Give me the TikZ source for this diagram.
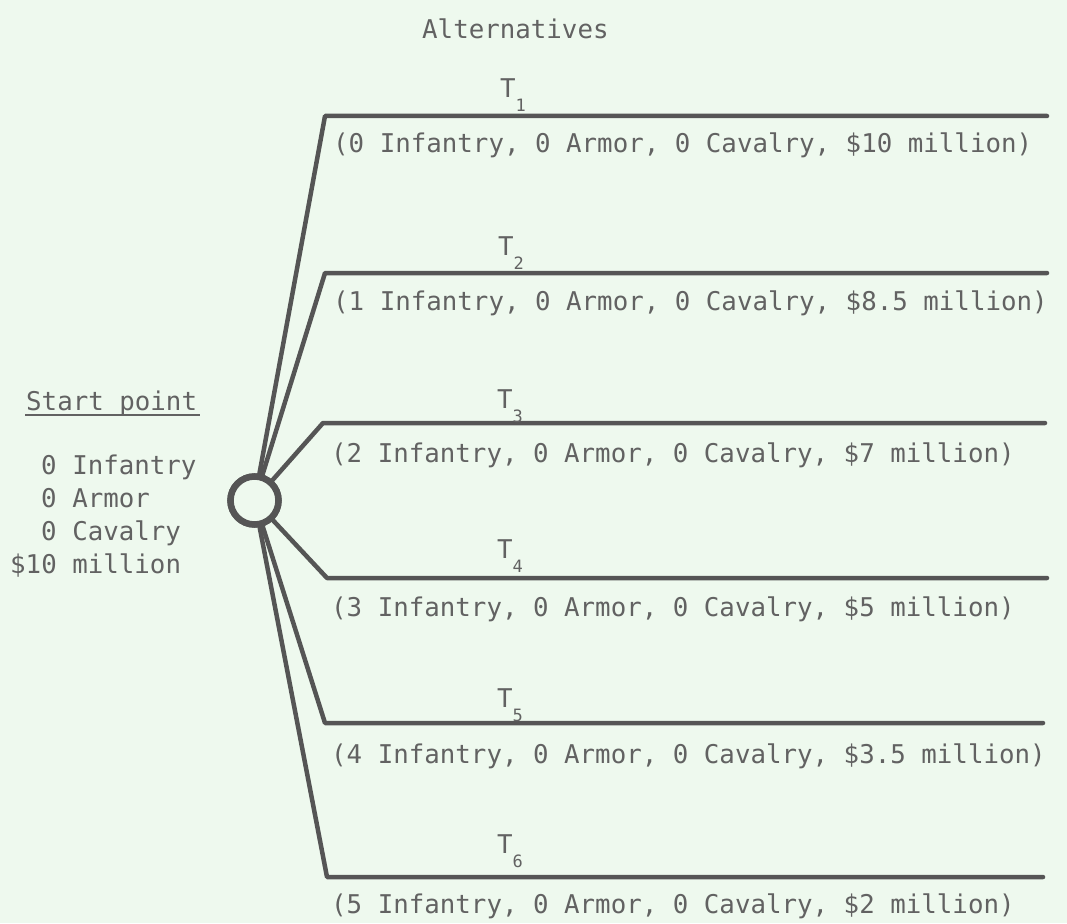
\documentclass[tikz,border=0pt]{standalone}
\usepackage{fontspec}
\newfontfamily\tw{DejaVu Sans Mono}
\definecolor{bgc}{RGB}{238,249,238}
\definecolor{linec}{RGB}{85,85,85}
\definecolor{txtc}{RGB}{98,98,98}
\tikzset{
  txt/.style={font=\tw\fontsize{25.8}{30}\selectfont, text=txtc, inner sep=0pt, anchor=base west},
  tlab/.style={font=\tw\fontsize{25.8}{30}\selectfont, text=txtc, inner sep=0pt, anchor=base west},
  branch/.style={draw=linec, line width=4.5pt, line join=round, line cap=round},
  hub/.style={circle, draw=linec, line width=6.5pt, minimum size=48pt, inner sep=0pt, fill=bgc}
}
\newcommand{\tsub}[1]{T\raisebox{-14pt}{\fontsize{17}{17}\selectfont #1}}
\begin{document}
\begin{tikzpicture}[x=1pt,y=-1pt]
\fill[bgc] (0,0) rectangle (1067,923);
\useasboundingbox (0,0) rectangle (1067,923);

% title
\node[txt] (alt) at (422,39) {Alternatives};

% start point block
\node[txt] (sp) at (26,410) {Start point};
\draw[draw=txtc, line width=2.7pt] ([xshift=-1pt,yshift=-5pt]sp.base west) -- ([xshift=3pt,yshift=-5pt]sp.base east);
\node[txt] (s1) at (41,474) {0 Infantry};
\node[txt] (s2) at (41,507) {0 Armor};
\node[txt] (s3) at (41,540) {0 Cavalry};
\node[txt] (s4) at (10,573) {\$10 million};

% hub
\node[hub] (c) at (254.5,500.5) {};

% corners and ends
\coordinate (k1) at (325,116); \coordinate (e1) at (1047,116);
\coordinate (k2) at (325,273); \coordinate (e2) at (1047,273);
\coordinate (k3) at (323,423); \coordinate (e3) at (1045,423);
\coordinate (k4) at (327,578); \coordinate (e4) at (1047,578);
\coordinate (k5) at (325,723); \coordinate (e5) at (1043,723);
\coordinate (k6) at (327,877); \coordinate (e6) at (1043,877);

\draw[branch] (c) -- (k1) -- (e1);
\draw[branch] (c) -- (k2) -- (e2);
\draw[branch] (c) -- (k3) -- (e3);
\draw[branch] (c) -- (k4) -- (e4);
\draw[branch] (c) -- (k5) -- (e5);
\draw[branch] (c) -- (k6) -- (e6);
\node[hub] at (c) {};

% T labels
\node[tlab] (t1) at (500,98) {\tsub{1}};
\node[tlab] (t2) at (498,255) {\tsub{2}};
\node[tlab] (t3) at (497,408) {\tsub{3}};
\node[tlab] (t4) at (497,558) {\tsub{4}};
\node[tlab] (t5) at (497,707) {\tsub{5}};
\node[tlab] (t6) at (497,853) {\tsub{6}};

% captions
\node[txt] (c1) at (333,152) {(0 Infantry, 0 Armor, 0 Cavalry, \$10 million)};
\node[txt] (c2) at (333,310) {(1 Infantry, 0 Armor, 0 Cavalry, \$8.5 million)};
\node[txt] (c3) at (331,462) {(2 Infantry, 0 Armor, 0 Cavalry, \$7 million)};
\node[txt] (c4) at (331,616) {(3 Infantry, 0 Armor, 0 Cavalry, \$5 million)};
\node[txt] (c5) at (331,763) {(4 Infantry, 0 Armor, 0 Cavalry, \$3.5 million)};
\node[txt] (c6) at (331,913) {(5 Infantry, 0 Armor, 0 Cavalry, \$2 million)};
\end{tikzpicture}
\end{document}
